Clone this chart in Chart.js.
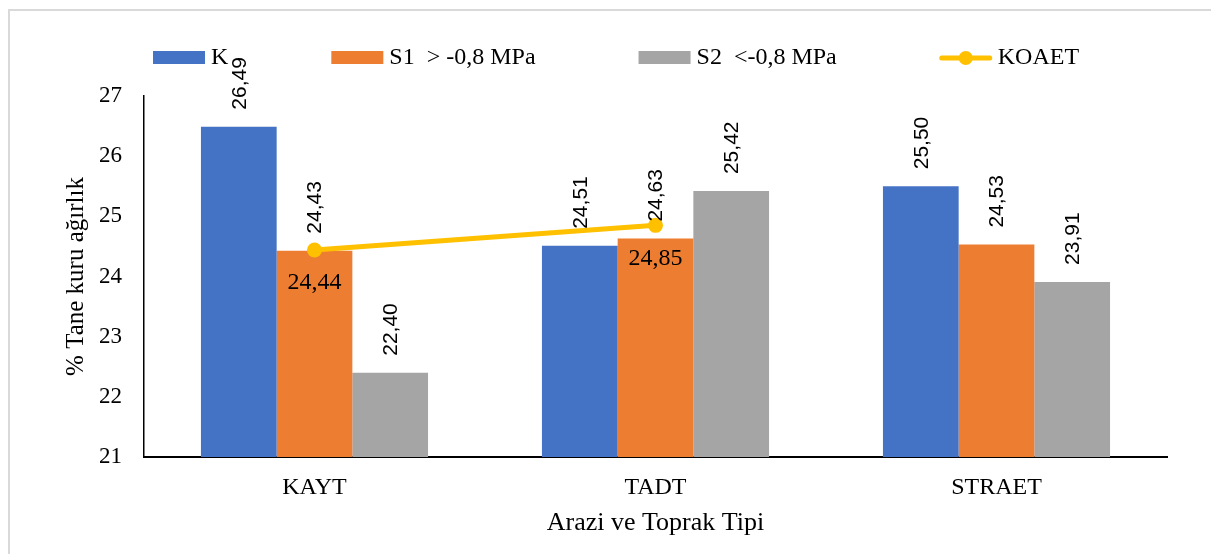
<!DOCTYPE html>
<html>
<head>
<meta charset="utf-8">
<script src="https://cdn.jsdelivr.net/npm/chart.js@4/dist/chart.umd.min.js"></script>
<style>
  html, body { margin: 0; padding: 0; background: #fff; overflow: hidden; }
  #wrap { width: 1211px; height: 554px; position: relative; }
</style>
</head>
<body>
<div id="wrap"><canvas id="c" width="1211" height="554"></canvas></div>
<script>
// Land and soil types
const categories = ['KAYT', 'TADT', 'STRAET'];

// % grain dry weight per series
const seriesK  = [26.49, 24.51, 25.50];
const seriesS1 = [24.43, 24.63, 24.53];
const seriesS2 = [22.40, 25.42, 23.91];
const seriesKOAET = [24.44, 24.85, null];

const seriesNames = ['K', 'S1  > -0,8 MPa', 'S2  <-0,8 MPa', 'KOAET'];
const yTicks = [21, 22, 23, 24, 25, 26, 27];

const SERIF = '"Liberation Serif", "Times New Roman", serif';
const SANS = '"Liberation Sans", Arial, sans-serif';
const COLORS = ['#4472C4', '#ED7D31', '#A5A5A5', '#FFC000'];

const fmt = v => v.toFixed(2).replace('.', ',');

// outer frame of the chart area
const framePlugin = {
  id: 'frame',
  beforeDraw(chart) {
    const ctx = chart.ctx;
    ctx.save();
    ctx.fillStyle = '#fff';
    ctx.fillRect(0, 0, chart.width, chart.height);
    ctx.strokeStyle = '#D9D9D9';
    ctx.lineWidth = 2;
    ctx.strokeRect(9, 10, chart.width + 20, chart.height + 20);
    ctx.restore();
  }
};

// value labels: rotated above bars, horizontal under line points
const labelPlugin = {
  id: 'valueLabels',
  afterDatasetsDraw(chart) {
    const ctx = chart.ctx;
    ctx.save();
    chart.data.datasets.forEach((ds, i) => {
      const meta = chart.getDatasetMeta(i);
      meta.data.forEach((el, j) => {
        const v = ds.data[j];
        if (v === null || v === undefined) return;
        ctx.fillStyle = '#000';
        if (ds.type === 'line') {
          ctx.font = '24px ' + SERIF;
          ctx.textAlign = 'center';
          ctx.textBaseline = 'middle';
          ctx.fillText(fmt(v), el.x, el.y + 33);
        } else {
          ctx.save();
          ctx.translate(el.x, el.y - 17);
          ctx.rotate(-Math.PI / 2);
          ctx.font = '21px ' + SANS;
          ctx.textAlign = 'left';
          ctx.textBaseline = 'middle';
          ctx.fillText(fmt(v), 0, 1);
          ctx.restore();
        }
      });
    });
    ctx.restore();
  }
};

// single-row legend across the top
const legendPlugin = {
  id: 'legendRow',
  afterDraw(chart) {
    const ctx = chart.ctx;
    ctx.save();
    ctx.font = '24px ' + SERIF;
    ctx.textBaseline = 'middle';
    ctx.textAlign = 'left';
    const boxW = 52, boxH = 13, textGap = 6, itemGap = 103;
    const cy = 58;
    let x = 153;
    seriesNames.forEach((name, i) => {
      if (i < 3) {
        ctx.fillStyle = COLORS[i];
        ctx.fillRect(x, cy - boxH / 2 - 0.5, boxW, boxH);
      } else {
        ctx.strokeStyle = COLORS[3];
        ctx.lineWidth = 5;
        ctx.lineCap = 'round';
        ctx.beginPath();
        ctx.moveTo(x + 2, cy);
        ctx.lineTo(x + boxW - 2, cy);
        ctx.stroke();
        ctx.fillStyle = COLORS[3];
        ctx.beginPath();
        ctx.arc(x + boxW / 2, cy, 7, 0, Math.PI * 2);
        ctx.fill();
      }
      ctx.fillStyle = '#000';
      const tx = x + boxW + textGap;
      ctx.fillText(name, tx, cy);
      x = tx + ctx.measureText(name).width + itemGap;
    });
    ctx.restore();
  }
};

const barDs = (label, data, color) => ({
  type: 'bar', label, data, backgroundColor: color, borderWidth: 0,
  categoryPercentage: 0.666, barPercentage: 1.0, order: 1
});

new Chart(document.getElementById('c'), {
  type: 'bar',
  data: {
    labels: categories,
    datasets: [
      barDs(seriesNames[0], seriesK, COLORS[0]),
      barDs(seriesNames[1], seriesS1, COLORS[1]),
      barDs(seriesNames[2], seriesS2, COLORS[2]),
      {
        type: 'line', label: seriesNames[3], data: seriesKOAET,
        borderColor: COLORS[3], backgroundColor: COLORS[3],
        borderWidth: 5, pointRadius: 7.5, pointHoverRadius: 7.5,
        pointBorderWidth: 0, tension: 0, order: 0
      }
    ]
  },
  options: {
    responsive: false,
    animation: false,
    devicePixelRatio: 1,
    layout: { padding: { top: 96, right: 44, bottom: 0, left: 0 } },
    plugins: {
      legend: { display: false },
      tooltip: { enabled: false },
      title: { display: false }
    },
    scales: {
      x: {
        grid: { display: false, drawTicks: false },
        border: { display: true, color: '#000', width: 2 },
        ticks: { color: '#000', font: { family: SERIF, size: 24 }, padding: 16 },
        title: {
          display: true, text: 'Arazi ve Toprak Tipi', color: '#000',
          font: { family: SERIF, size: 26 }, padding: { top: 0, bottom: 15 }
        },
        afterFit(scale) { scale.height = 97; }
      },
      y: {
        min: 21, max: 27,
        afterBuildTicks(scale) { scale.ticks = yTicks.map(v => ({ value: v })); },
        grid: { display: false, drawTicks: false },
        border: { display: true, color: '#000', width: 1.5 },
        ticks: { color: '#000', font: { family: SERIF, size: 23 }, padding: 22 },
        title: {
          display: true, text: '% Tane kuru ağırlık', color: '#000',
          font: { family: SERIF, size: 25 }, padding: { top: 61, bottom: 0 }
        },
        afterFit(scale) { scale.width = 144; }
      }
    }
  },
  plugins: [framePlugin, labelPlugin, legendPlugin]
});
</script>
</body>
</html>
